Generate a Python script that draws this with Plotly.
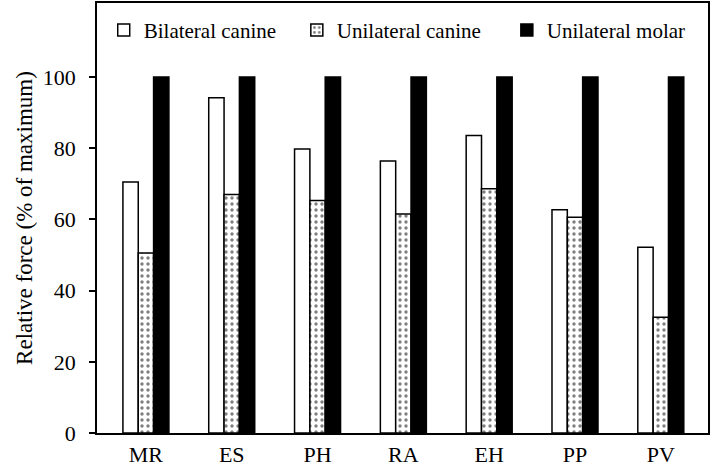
import plotly.graph_objects as go

categories = ["MR", "ES", "PH", "RA", "EH", "PP", "PV"]
bilateral_canine = [70.5, 94.2, 79.8, 76.4, 83.6, 62.7, 52.2]
unilateral_canine = [50.6, 67.0, 65.3, 61.5, 68.6, 60.6, 32.5]
unilateral_molar = [100, 100, 100, 100, 100, 100, 100]
y_ticks = [0, 20, 40, 60, 80, 100]

FONT = "Liberation Serif, Times New Roman, serif"
PAD = "\u00a0"

fig = go.Figure()
fig.add_trace(go.Bar(
    x=categories, y=bilateral_canine, name="Bilateral canine" + PAD * 3,
    marker=dict(color="white", line=dict(color="black", width=1.5)),
))
fig.add_trace(go.Bar(
    x=categories, y=unilateral_canine, name="Unilateral canine" + PAD * 4,
    marker=dict(color="white", line=dict(color="black", width=1.5),
                pattern=dict(shape=".", fgcolor="black", bgcolor="white",
                             size=6, solidity=0.25, fillmode="overlay")),
))
fig.add_trace(go.Bar(
    x=categories, y=unilateral_molar, name="Unilateral molar",
    marker=dict(color="black", line=dict(color="black", width=1.5)),
))

fig.update_layout(
    width=711, height=467,
    margin=dict(l=97, r=3, t=3, b=34),
    paper_bgcolor="white", plot_bgcolor="white",
    barmode="group", bargap=0.464, bargroupgap=0,
    font=dict(family=FONT, color="black", size=22),
    showlegend=True,
    legend=dict(orientation="h", x=0.011, y=0.984, xanchor="left", yanchor="top",
                font=dict(family=FONT, size=21, color="black"),
                bgcolor="rgba(0,0,0,0)", itemwidth=30),
    xaxis=dict(range=[-0.57, 6.55], showline=True, linecolor="black", linewidth=1.5,
               mirror=True, ticks="", showgrid=False, zeroline=False,
               ticklabelstandoff=1, automargin=False,
               tickfont=dict(family=FONT, size=22, color="black")),
    yaxis=dict(range=[0, 120.8], tickvals=y_ticks, showline=True, linecolor="black",
               linewidth=1.5, mirror=True, ticks="outside", ticklen=6, tickwidth=1.5,
               tickcolor="black", showgrid=False, zeroline=False,
               ticklabelstandoff=9, automargin=False,
               tickfont=dict(family=FONT, size=22, color="black"),
               title=dict(text="Relative force (% of maximum)",
                          font=dict(family=FONT, size=23, color="black"), standoff=4)),
)

fig.write_html("out.html", config={"displayModeBar": False},
               post_script="document.body.style.margin='0';document.body.style.overflow='hidden';")
